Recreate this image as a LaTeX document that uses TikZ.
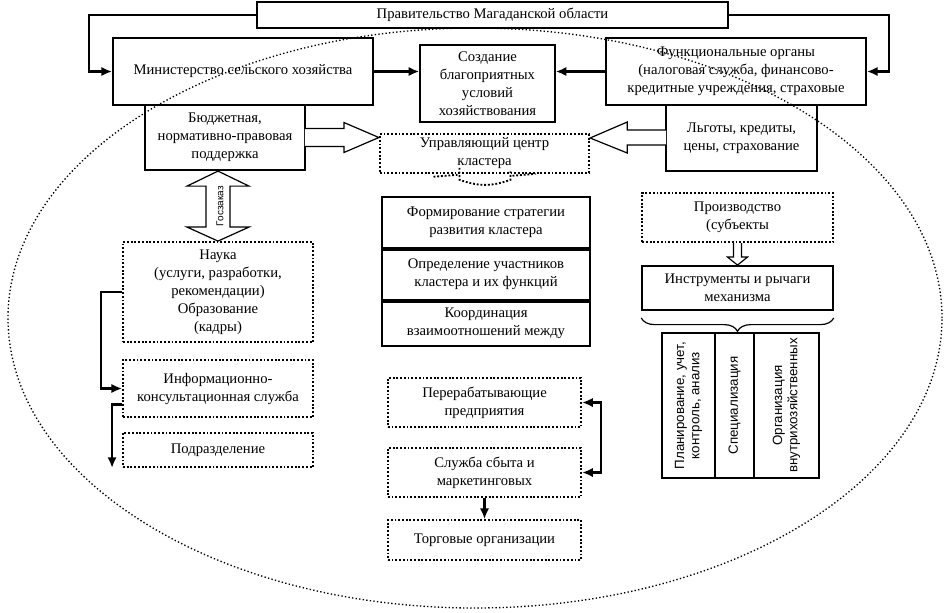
\documentclass[tikz,border=0pt]{standalone}
\usepackage{fontspec}
\setmainfont{Liberation Serif}
\setsansfont{Liberation Sans}
\usetikzlibrary{calc}
\usetikzlibrary{positioning}
\usetikzlibrary{arrows.meta}
\usetikzlibrary{decorations.pathreplacing}

\tikzset{
  solidbox/.style={draw, line width=1.4pt, align=center, inner sep=1pt,
    font=\fontsize{11}{13.5}\selectfont},
  dotbox/.style={solidbox, dash pattern=on 1.4pt off 1.4pt},
  colbox/.style={solidbox, rotate=90, font=\sffamily\fontsize{10}{11.5}\selectfont},
  conn/.style={line width=1.6pt, -{Latex[length=8pt,width=7pt]}},
  bline/.style={line width=0.9pt, fill=white},
  ellip/.style={line width=1pt, dash pattern=on 1pt off 1.7pt},
}

\begin{document}
\begin{tikzpicture}[x=0.75pt, y=-0.75pt]

\useasboundingbox (0,0) rectangle (946,612);

% cluster border
\draw[ellip] (475,318) ellipse [x radius=350.25pt, y radius=217.5pt];

% top row
\node[solidbox, minimum width=353pt, minimum height=19.5pt] (gov) at (492.5,15)
  {Правительство Магаданской области};
\node[solidbox, minimum width=195pt, minimum height=50pt] (min) at (243,71.5)
  {Министерство сельского хозяйства};
\node[solidbox, minimum width=101pt, minimum height=58pt] (cre) at (487.5,83.5)
  {Создание\\благоприятных\\условий\\хозяйствования};
\node[solidbox, minimum width=195pt, minimum height=50pt] (func) at (736,71.5)
  {Функциональные органы\\(налоговая служба, финансово-\\кредитные учреждения, страховые};

%government lines
\draw[conn] (gov.west) -- ++(-167,0) |- (min.west);
\draw[conn] (gov.east) -- ++(160,0) |- (func.east);
\draw[conn] (min.east) -- (cre.west |- min.east);
\draw[conn] (func.west) -- (cre.east |- func.west);

% support boxes
\node[solidbox, minimum width=120pt, minimum height=49pt] (budget) at (225,137.5)
  {Бюджетная,\\нормативно-правовая\\поддержка};
\node[solidbox, minimum width=113pt, minimum height=49.5pt] (benef) at (741.5,138)
  {Льготы, кредиты,\\цены, страхование};

% cluster centre
\node[dotbox, minimum width=157pt, minimum height=29pt] (ctr) at (484.5,153.5)
  {Управляющий центр\\кластера};

%block arrows into the centre
\draw[bline] ($(budget.east)+(-1,-9)$) -- ($(budget.east)+(38,-9)$)
  -- ($(budget.east)+(38,-15)$) -- (ctr.west |- budget.east)
  -- ($(budget.east)+(38,15)$) -- ($(budget.east)+(38,9)$)
  -- ($(budget.east)+(-1,9)$);
\draw[bline] ($(benef.west)+(1,-8)$) -- ($(benef.west)+(-38,-8)$)
  -- ($(benef.west)+(-38,-16)$) -- (ctr.east |- benef.west)
  -- ($(benef.west)+(-38,15)$) -- ($(benef.west)+(-38,7)$)
  -- ($(benef.west)+(1,7)$);

%dotted mark under the centre
\draw[dash pattern=on 1.4pt off 1.4pt, line width=1.4pt]
  ($(ctr.south)+(-51,3)$) -- ($(ctr.south)+(-27,1)$)
  ($(ctr.south)+(-25,-6)$) -- ($(ctr.south)+(-25,6)$)
  to[bend right=20] ($(ctr.south)+(26,6)$) -- ($(ctr.south)+(26,-4)$)
  ($(ctr.south)+(28,2)$) -- ($(ctr.south)+(51,0)$);

% centre functions
\node[solidbox, minimum width=156pt, minimum height=38pt] (strat) at (486,222.5)
  {Формирование стратегии\\развития кластера};
\node[solidbox, minimum width=156pt, minimum height=37.5pt, below=0pt of strat] (memb)
  {Определение участников\\кластера и их функций};
\node[solidbox, minimum width=156pt, minimum height=33pt, below=0pt of memb] (coord)
  {Координация\\взаимоотношений между};

% processing chain
\node[dotbox, minimum width=145pt, minimum height=37pt] (proc) at (484.5,402.5)
  {Перерабатывающие\\предприятия};
\node[dotbox, minimum width=145pt, minimum height=37pt] (sales) at (484.5,472.5)
  {Служба сбыта и\\маркетинговых};
\node[dotbox, minimum width=145pt, minimum height=30pt] (trade) at (484.5,540)
  {Торговые организации};

\draw[conn] (sales.south) -- (trade.north);
\draw[conn, {Latex[length=8pt,width=7pt]}-{Latex[length=8pt,width=7pt]}]
  (proc.east) -- ++(19,0) |- (sales.east);

% science column
\node[dotbox, minimum width=142.5pt, minimum height=75pt] (sci) at (218,292)
  {Наука\\(услуги, разработки,\\рекомендации)\\Образование\\(кадры)};
\node[dotbox, minimum width=142.5pt, minimum height=43pt] (info) at (218,388.5)
  {Информационно-\\консультационная служба};
\node[dotbox, minimum width=142.5pt, minimum height=25.5pt] (sub) at (218,450)
  {Подразделение};

\draw[conn] (sci.west) -- ++(-21,0) |- (info.west);
\draw[conn] ($(info.west)+(0,16)$) -| ($(sub.south west)+(-10,0)$);

%state order arrow
\coordinate (gzTop) at (sci.north |- budget.south);
\draw[bline] (gzTop) -- ($(gzTop)+(31,15)$) -- ($(gzTop)+(12,15)$)
  -- ($(sci.north)+(12,-14)$) -- ($(sci.north)+(31,-14)$) -- (sci.north)
  -- ($(sci.north)+(-31,-14)$) -- ($(sci.north)+(-12,-14)$)
  -- ($(gzTop)+(-12,15)$) -- ($(gzTop)+(-31,15)$) -- cycle;
\node[rotate=90, inner sep=0pt, font=\sffamily\fontsize{7.5}{9}\selectfont] (gz)
  at ($(gzTop)!0.5!(sci.north)+(2,0)$) {Госзаказ};

% production column
\node[dotbox, minimum width=143pt, minimum height=37pt] (prod) at (737.5,217.5)
  {Производство\\(субъекты};
\node[solidbox, minimum width=143pt, minimum height=33pt] (tools) at (737.5,288)
  {Инструменты и рычаги\\механизма};

\draw[bline] ($(prod.south)+(-4,0)$) -- ($(tools.north)+(-4,-8)$)
  -- ($(tools.north)+(-10,-8)$) -- (tools.north) -- ($(tools.north)+(10,-8)$)
  -- ($(tools.north)+(4,-8)$) -- ($(prod.south)+(4,0)$);

\draw[line width=0.9pt, decorate, decoration={brace, amplitude=10pt}]
  ($(tools.south east)+(0,7)$) -- ($(tools.south west)+(0,7)$);

% mechanism columns
\node[colbox, minimum width=109pt, minimum height=40pt] (plan) at (688.5,405.5)
  {Планирование, учет,\\контроль, анализ};
\node[colbox, minimum width=109pt, minimum height=29pt] (spec) at (734.5,405.5)
  {Специализация};
\node[colbox, minimum width=109pt, minimum height=49pt] (org) at (786.5,405.5)
  {Организация\\внутрихозяйственных};

\end{tikzpicture}
\end{document}
